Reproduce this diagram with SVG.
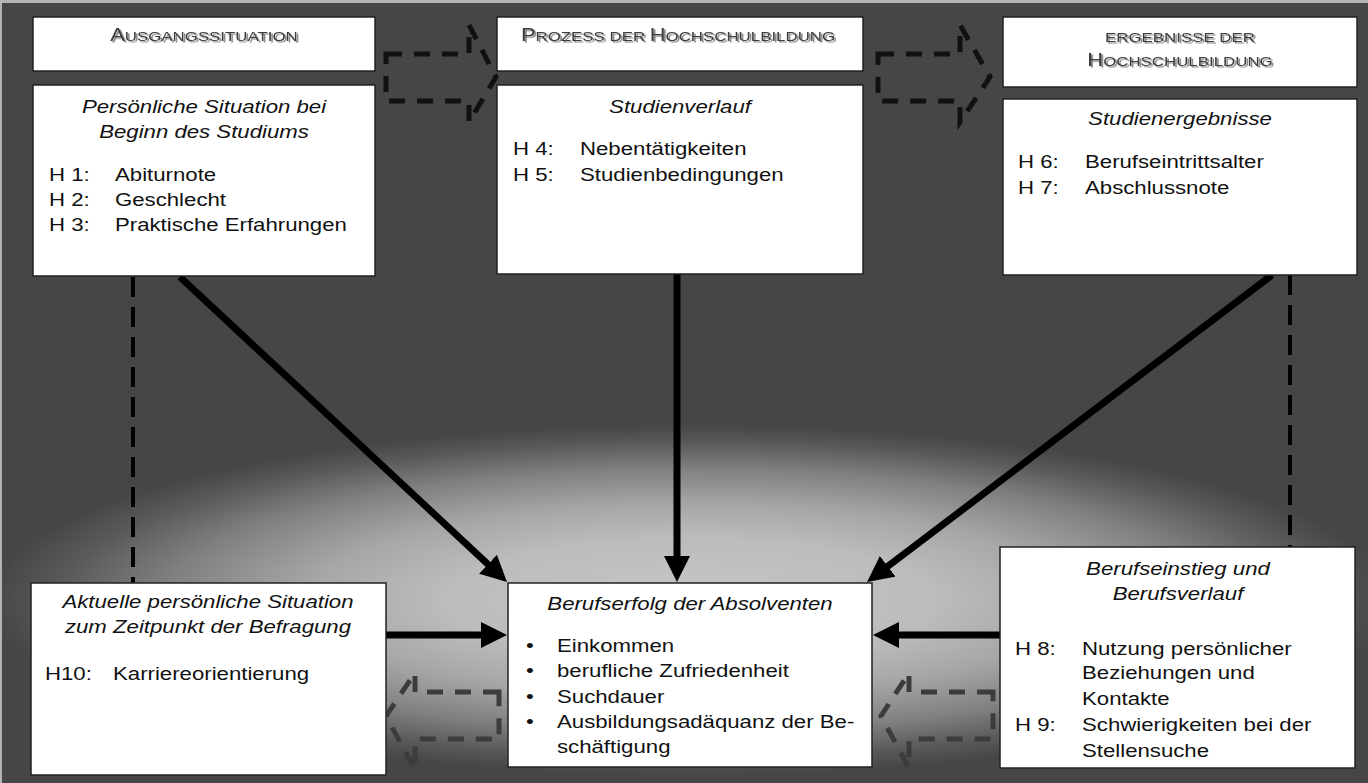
<svg xmlns="http://www.w3.org/2000/svg" width="1368" height="783" viewBox="0 0 1368 783">
  <defs>
    <radialGradient id="glow" gradientUnits="userSpaceOnUse" cx="690" cy="600" r="700" gradientTransform="translate(690 600) scale(1 0.25) translate(-690 -600)">
      <stop offset="0" stop-color="#c6c6c6"/>
      <stop offset="0.35" stop-color="#bcbcbc"/>
      <stop offset="0.55" stop-color="#a6a6a6"/>
      <stop offset="0.75" stop-color="#808080"/>
      <stop offset="0.9" stop-color="#5a5a5a"/>
      <stop offset="1" stop-color="#464646"/>
    </radialGradient>
    <filter id="sh" x="-5%" y="-30%" width="110%" height="160%">
      <feDropShadow dx="1.5" dy="1.5" stdDeviation="0.6" flood-color="#777" flood-opacity="0.9"/>
    </filter>
    <marker id="ah" markerUnits="userSpaceOnUse" markerWidth="27" markerHeight="26" refX="16" refY="13" orient="auto">
      <path d="M0,0 L26,13 L0,26 Z" fill="#000"/>
    </marker>
    <style>
      .box { fill: #fff; stroke: #222; stroke-width: 1.5; }
      .t { font-family: "Liberation Sans", Arial, sans-serif; font-size: 18.5px; fill: #111; }
      .ti { font-style: italic; text-anchor: middle; }
      .h { font-family: "Liberation Sans", Arial, sans-serif; font-size: 13.5px; fill: #3c3c3c; text-anchor: middle; filter: url(#sh); }
      .big { font-size: 17.5px; }
      .arrow { stroke: #000; stroke-width: 7; fill: none; marker-end: url(#ah); }
      .dline { stroke: #000; stroke-width: 4; stroke-dasharray: 20 10; fill: none; }
      .dshape { stroke: #111; stroke-width: 5; stroke-dasharray: 16 12; fill: none; }
      .dshape2 { stroke: #3c3c3c; stroke-width: 5; stroke-dasharray: 16 12; fill: none; }
    </style>
  </defs>

  <!-- background -->
  <rect x="0" y="0" width="1368" height="783" fill="#b4b4b4"/>
  <rect x="2" y="3" width="1366" height="780" fill="#464646"/>
  <rect x="2" y="3" width="1366" height="780" fill="url(#glow)"/>

  <!-- connectors -->
  <g id="connectors">
    <path class="dshape" d="M386,54 H469 V25 L496,77 L469,122 V101 H386 Z"/>
    <path class="dshape" d="M878,54 H960 V25 L990,77 L960,122 V101 H878 Z"/>
    <path class="dshape2" d="M499,692 H415 V673 L386,716 L415,770 V739 H499 Z"/>
    <path class="dshape2" d="M993,692 H909 V673 L881,716 L909,768 V739 H993 Z"/>
    <line class="dline" x1="133" y1="277" x2="133" y2="583"/>
    <line class="dline" x1="1290" y1="275" x2="1290" y2="547"/>
    <line class="arrow" x1="180" y1="277" x2="499.7" y2="575.2"/>
    <line class="arrow" x1="677" y1="274" x2="677" y2="572"/>
    <line class="arrow" x1="1272" y1="275" x2="875" y2="576"/>
    <line class="arrow" x1="386" y1="635" x2="497" y2="635"/>
    <line class="arrow" x1="1000" y1="635" x2="883" y2="635"/>
  </g>

  <!-- header nodes -->
  <g id="head-ausgang">
    <rect class="box" x="33" y="17" width="342" height="54"/>
    <text class="h" transform="translate(204 41) scale(1.25 1)"><tspan class="big">A</tspan>USGANGSSITUATION</text>
  </g>
  <g id="head-prozess">
    <rect class="box" x="497" y="17" width="366" height="54"/>
    <text class="h" transform="translate(678 41) scale(1.25 1)"><tspan class="big">P</tspan>ROZESS DER <tspan class="big">H</tspan>OCHSCHULBILDUNG</text>
  </g>
  <g id="head-ergebnisse">
    <rect class="box" x="1003" y="17" width="354" height="70"/>
    <text class="h" transform="translate(1180 42) scale(1.25 1)">ERGEBNISSE DER</text>
    <text class="h" transform="translate(1180 66) scale(1.25 1)"><tspan class="big">H</tspan>OCHSCHULBILDUNG</text>
  </g>

  <!-- content nodes -->
  <g id="node-persoenlich">
    <rect class="box" x="33" y="85" width="342" height="191"/>
    <text class="t ti" transform="translate(204 113) scale(1.2 1)"><tspan x="0">Persönliche Situation bei</tspan><tspan x="0" dy="25">Beginn des Studiums</tspan></text>
    <text class="t" transform="translate(49 181) scale(1.2 1)">H 1:</text>
    <text class="t" transform="translate(115 181) scale(1.2 1)">Abiturnote</text>
    <text class="t" transform="translate(49 206) scale(1.2 1)">H 2:</text>
    <text class="t" transform="translate(115 206) scale(1.2 1)">Geschlecht</text>
    <text class="t" transform="translate(49 231) scale(1.2 1)">H 3:</text>
    <text class="t" transform="translate(115 231) scale(1.2 1)">Praktische Erfahrungen</text>
  </g>

  <g id="node-studienverlauf">
    <rect class="box" x="497" y="85" width="366" height="189"/>
    <text class="t ti" transform="translate(680 113) scale(1.2 1)">Studienverlauf</text>
    <text class="t" transform="translate(513 155) scale(1.2 1)">H 4:</text>
    <text class="t" transform="translate(580 155) scale(1.2 1)">Nebentätigkeiten</text>
    <text class="t" transform="translate(513 181) scale(1.2 1)">H 5:</text>
    <text class="t" transform="translate(580 181) scale(1.2 1)">Studienbedingungen</text>
  </g>

  <g id="node-studienergebnisse">
    <rect class="box" x="1003" y="99" width="354" height="176"/>
    <text class="t ti" transform="translate(1180 125) scale(1.2 1)">Studienergebnisse</text>
    <text class="t" transform="translate(1018 168) scale(1.2 1)">H 6:</text>
    <text class="t" transform="translate(1085 168) scale(1.2 1)">Berufseintrittsalter</text>
    <text class="t" transform="translate(1018 194) scale(1.2 1)">H 7:</text>
    <text class="t" transform="translate(1085 194) scale(1.2 1)">Abschlussnote</text>
  </g>

  <g id="node-aktuell">
    <rect class="box" x="31" y="583" width="355" height="192"/>
    <text class="t ti" transform="translate(208 608) scale(1.2 1)"><tspan x="0">Aktuelle persönliche Situation</tspan><tspan x="0" dy="25">zum Zeitpunkt der Befragung</tspan></text>
    <text class="t" transform="translate(45 680) scale(1.2 1)">H10:</text>
    <text class="t" transform="translate(113 680) scale(1.2 1)">Karriereorientierung</text>
  </g>

  <g id="node-berufserfolg">
    <rect class="box" x="508" y="583" width="364" height="184"/>
    <text class="t ti" transform="translate(690 610) scale(1.2 1)">Berufserfolg der Absolventen</text>
    <text class="t" transform="translate(526 652) scale(1.2 1)">•</text>
    <text class="t" transform="translate(557 652) scale(1.2 1)">Einkommen</text>
    <text class="t" transform="translate(526 677) scale(1.2 1)">•</text>
    <text class="t" transform="translate(557 677) scale(1.2 1)">berufliche Zufriedenheit</text>
    <text class="t" transform="translate(526 703) scale(1.2 1)">•</text>
    <text class="t" transform="translate(557 703) scale(1.2 1)">Suchdauer</text>
    <text class="t" transform="translate(526 728) scale(1.2 1)">•</text>
    <text class="t" transform="translate(557 728) scale(1.2 1)">Ausbildungsadäquanz der Be-</text>
    <text class="t" transform="translate(557 753) scale(1.2 1)">schäftigung</text>
  </g>

  <g id="node-berufseinstieg">
    <rect class="box" x="1000" y="547" width="355" height="221"/>
    <text class="t ti" transform="translate(1178 575) scale(1.2 1)"><tspan x="0">Berufseinstieg und</tspan><tspan x="0" dy="25">Berufsverlauf</tspan></text>
    <text class="t" transform="translate(1015 655) scale(1.2 1)">H 8:</text>
    <text class="t" transform="translate(1082 655) scale(1.2 1)">Nutzung persönlicher</text>
    <text class="t" transform="translate(1082 679) scale(1.2 1)">Beziehungen und</text>
    <text class="t" transform="translate(1082 705) scale(1.2 1)">Kontakte</text>
    <text class="t" transform="translate(1015 731) scale(1.2 1)">H 9:</text>
    <text class="t" transform="translate(1082 731) scale(1.2 1)">Schwierigkeiten bei der</text>
    <text class="t" transform="translate(1082 757) scale(1.2 1)">Stellensuche</text>
  </g>
</svg>
